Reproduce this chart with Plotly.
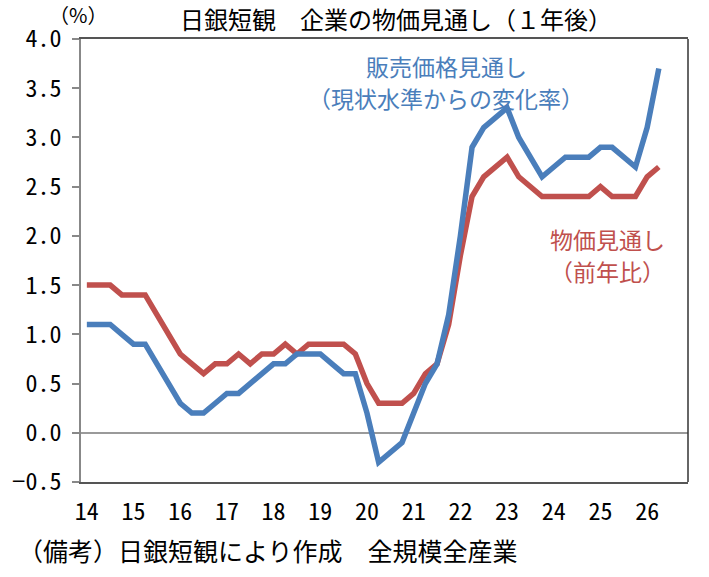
import plotly.graph_objects as go

# ---- data (quarterly, 2014Q1 .. 2026Q2) ----
year_labels = ["14", "15", "16", "17", "18", "19", "20", "21", "22", "23", "24", "25", "26"]
selling_price = [1.1, 1.1, 1.1, 1.0, 0.9, 0.9, 0.7, 0.5, 0.3, 0.2,
                 0.2, 0.3, 0.4, 0.4, 0.5, 0.6, 0.7, 0.7, 0.8, 0.8,
                 0.8, 0.7, 0.6, 0.6, 0.2, -0.3, -0.2, -0.1, 0.2, 0.5,
                 0.7, 1.2, 2.0, 2.9, 3.1, 3.2, 3.3, 3.0, 2.8, 2.6,
                 2.7, 2.8, 2.8, 2.8, 2.9, 2.9, 2.8, 2.7, 3.1, 3.7]
general_price = [1.5, 1.5, 1.5, 1.4, 1.4, 1.4, 1.2, 1.0, 0.8, 0.7,
                 0.6, 0.7, 0.7, 0.8, 0.7, 0.8, 0.8, 0.9, 0.8, 0.9,
                 0.9, 0.9, 0.9, 0.8, 0.5, 0.3, 0.3, 0.3, 0.4, 0.6,
                 0.7, 1.1, 1.8, 2.4, 2.6, 2.7, 2.8, 2.6, 2.5, 2.4,
                 2.4, 2.4, 2.4, 2.4, 2.5, 2.4, 2.4, 2.4, 2.6, 2.7]
y_ticks = [-0.5, 0.0, 0.5, 1.0, 1.5, 2.0, 2.5, 3.0, 3.5, 4.0]

BLUE = "#4a7ebb"
RED = "#c0504d"
JP = "Noto Sans CJK JP"
NUM = "Noto Sans Mono CJK JP, Liberation Mono, monospace"

W, H = 709, 577
L, R, T, B = 81, 21, 39, 95
pw, ph = W - L - R, H - T - B


def px(x):
    return (x - L) / pw


def py(y):
    return (H - B - y) / ph


xq = list(range(len(selling_price)))

fig = go.Figure()
fig.add_trace(go.Scatter(x=xq, y=general_price, mode="lines",
                         line=dict(color=RED, width=5.5), hoverinfo="skip"))
fig.add_trace(go.Scatter(x=xq, y=selling_price, mode="lines",
                         line=dict(color=BLUE, width=5.5), hoverinfo="skip"))

fig.update_layout(
    width=W, height=H,
    margin=dict(l=L, r=R, t=T, b=B, pad=0),
    paper_bgcolor="white", plot_bgcolor="white",
    showlegend=False,
    font=dict(family=JP, size=22, color="black"),
)
fig.update_xaxes(
    range=[-0.5, 51.5],
    tickvals=[i * 4 for i in range(len(year_labels))],
    ticktext=year_labels,
    ticks="", showgrid=False, zeroline=False,
    showline=True, linecolor="#555555", linewidth=1.5, mirror=True,
    tickfont=dict(family=NUM, size=24, color="black"),
    ticklabelstandoff=7,
)
fig.update_yaxes(
    range=[-0.5, 4.0],
    tickvals=y_ticks, tickformat=".1f",
    ticks="outside", ticklen=7, tickcolor="#888888", tickwidth=1.5,
    showgrid=False,
    zeroline=True, zerolinecolor="#9a9a9a", zerolinewidth=1.5,
    showline=True, linecolor="#888888", linewidth=1.5,
    tickfont=dict(family=NUM, size=24, color="black"),
    ticklabelstandoff=6,
)
# right border
fig.add_shape(type="line", xref="x domain", yref="y domain",
              x0=1, x1=1, y0=0, y1=1, line=dict(color="#333333", width=1.5))

ann = [
    dict(text="日銀短観　企業の物価見通し（１年後）", x=px(396), y=py(18), size=24, color="black", xa="center"),
    dict(text="（%）", x=px(78), y=py(15), size=20, color="black", xa="center"),
    dict(text="販売価格見通し", x=px(446), y=py(66), size=23, color=BLUE, xa="center"),
    dict(text="（現状水準からの変化率）", x=px(446), y=py(98), size=23, color=BLUE, xa="center"),
    dict(text="物価見通し", x=px(607), y=py(239), size=23, color=RED, xa="center"),
    dict(text="（前年比）", x=px(607), y=py(271), size=23, color=RED, xa="center"),
    dict(text="（備考）日銀短観により作成　全規模全産業", x=px(16), y=py(550), size=25, color="black", xa="left"),
]
for a in ann:
    fig.add_annotation(text=a["text"], xref="paper", yref="paper", x=a["x"], y=a["y"],
                       xanchor=a["xa"], yanchor="middle", showarrow=False, align="center",
                       font=dict(family=JP, size=a["size"], color=a["color"]))

fig.write_html("out.html")
